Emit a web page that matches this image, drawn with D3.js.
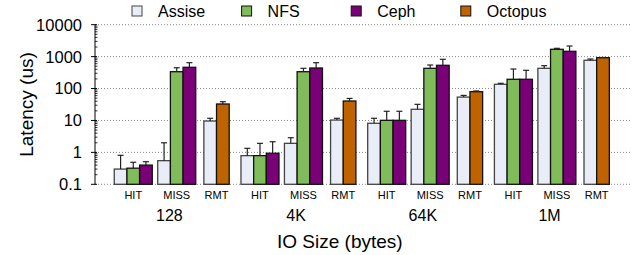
<!DOCTYPE html>
<html>
<head>
<meta charset="utf-8">
<script src="https://cdn.jsdelivr.net/npm/d3@7"></script>
<style>
  body { margin: 0; background: #fff; }
  svg { font-family: "Liberation Sans", Arial, sans-serif; }
</style>
</head>
<body>
<svg id="chart" width="634" height="255"></svg>
<script>
var sizes = ["128", "4K", "64K", "1M"];
var kinds = ["HIT", "MISS", "RMT"];
var seriesNames = ["Assise", "NFS", "Ceph", "Octopus"];
var yTicks = [0.1, 1, 10, 100, 1000, 10000];
var yTickLabels = ["0.1", "1", "10", "100", "1000", "10000"];

// values per size x kind (HIT, MISS, RMT), null = no bar
var assise     = [0.3, 0.55, 9.6,   0.79, 1.92, 10.3,   8.15, 22.4, 54,   136, 430, 767];
var assiseErr  = [0.81, 2.0, 11.7,  1.34, 2.88, 11.7,   11.7, 32, 61,     146, 520, 841];
var nfs        = [0.32, 337, null,  0.79, 337, null,    10.1, 430, null,  195, 1695, null];
var nfsErr     = [0.49, 448, null,  1.92, 430, null,    19.4, 546, null,  409, 1820, null];
var ceph       = [0.40, 463, null,  0.94, 440, null,    10.1, 535, null,  195, 1468, null];
var cephErr    = [0.51, 645, null,  2.16, 645, null,    19.4, 824, null,  373, 2150, null];
var octopus    = [null, null, 32.8, null, null, 40.7,   null, null, 79.6, null, null, 925];
var octopusErr = [null, null, 38.7, null, null, 49,     null, null, 84,   null, null, 940];

var colors = ["#e9edf7", "#80bc5a", "#7a0077", "#bf6300"];
var strokes = ["#444", "#111", "#111", "#111"];

var svg = d3.select("#chart");
var plotLeft = 95, plotRight = 630, plotTop = 24.7, plotBottom = 184.3;

// x in "bar slots": 10 slots per size group
var x = d3.scaleLinear().domain([-1.52, 40.7]).range([plotLeft, plotRight]);
var kindStart = [0, 3.43, 7.07];
var y = d3.scaleLog().domain([0.1, 10000]).range([plotBottom, plotTop]);

// gridlines
svg.append("g").selectAll("line").data(yTicks).enter().append("line")
    .attr("x1", plotLeft).attr("x2", plotRight)
    .attr("y1", d => y(d)).attr("y2", d => y(d))
    .attr("stroke", "#666").attr("stroke-width", 0.8)
    .attr("stroke-dasharray", "1,2");

// axis
var minor = [];
yTicks.slice(0, -1).forEach(function(t) {
    for (var m = 2; m <= 9; m++) minor.push(t * m);
});
var ax = svg.append("g").attr("stroke", "#000");
ax.append("line").attr("x1", plotLeft).attr("x2", plotLeft).attr("y1", y(10000)).attr("y2", y(0.1));
ax.selectAll(".maj").data(yTicks).enter().append("line")
    .attr("x1", plotLeft - 4).attr("x2", plotLeft + 2)
    .attr("y1", d => y(d)).attr("y2", d => y(d));
ax.selectAll(".min").data(minor).enter().append("line")
    .attr("x1", plotLeft).attr("x2", plotLeft + 2.5)
    .attr("y1", d => y(d)).attr("y2", d => y(d)).attr("stroke-width", 0.8);

svg.append("g").selectAll("text").data(yTicks).enter().append("text")
    .attr("x", plotLeft - 13).attr("y", d => y(d)).attr("dy", "0.36em")
    .attr("text-anchor", "end").attr("font-size", 16.5)
    .text((d, i) => yTickLabels[i]);

svg.append("text")
    .attr("transform", "translate(33," + ((plotTop + plotBottom) / 2) + ") rotate(-90)")
    .attr("text-anchor", "middle").attr("font-size", 19)
    .text("Latency (us)");

// bars
var values = [assise, nfs, ceph, octopus];
var errs = [assiseErr, nfsErr, cephErr, octopusErr];
var bars = [];
sizes.forEach(function(s, g) {
    kinds.forEach(function(k, ki) {
        var idx = g * kinds.length + ki;
        var j = 0;
        values.forEach(function(arr, si) {
            if (arr[idx] == null) return;
            bars.push({ s: si, v: arr[idx], e: errs[si][idx], slot: g * 10 + kindStart[ki] + j });
            j++;
        });
    });
});

var bw = x(1) - x(0);
svg.append("g").selectAll("rect").data(bars).enter().append("rect")
    .attr("x", d => x(d.slot))
    .attr("width", bw)
    .attr("y", d => y(d.v))
    .attr("height", d => y(0.1) - y(d.v))
    .attr("fill", d => colors[d.s])
    .attr("stroke", d => strokes[d.s])
    .attr("stroke-width", 1.3);

var eg = svg.append("g").attr("stroke", "#222").attr("stroke-width", 1.2);
bars.forEach(function(d) {
    var cx = x(d.slot + 0.5);
    eg.append("line").attr("x1", cx).attr("x2", cx).attr("y1", y(d.v)).attr("y2", y(d.e));
    eg.append("line").attr("x1", cx - 3).attr("x2", cx + 3).attr("y1", y(d.e)).attr("y2", y(d.e));
});

// category labels
var kindCount = [3, 3, 2];
sizes.forEach(function(s, g) {
    kinds.forEach(function(k, ki) {
        svg.append("text")
            .attr("x", x(g * 10 + kindStart[ki] + kindCount[ki] / 2))
            .attr("y", 198.5).attr("text-anchor", "middle").attr("font-size", 11)
            .text(k);
    });
    svg.append("text")
        .attr("x", x(g * 10 + 4.35)).attr("y", 220.5)
        .attr("text-anchor", "middle").attr("font-size", 16)
        .text(s);
});

svg.append("text").attr("x", x(17.8)).attr("y", 248)
    .attr("text-anchor", "middle").attr("font-size", 19)
    .text("IO Size (bytes)");

// legend
var lx = d3.scaleLinear().domain([0, 1]).range([132, 241.6]);
var leg = svg.append("g").selectAll("g").data(seriesNames).enter().append("g")
    .attr("transform", (d, i) => "translate(" + lx(i) + ",0)");
leg.append("rect").attr("x", 0).attr("y", 6).attr("width", 10).attr("height", 10)
    .attr("fill", (d, i) => colors[i]).attr("stroke", (d, i) => strokes[i]).attr("stroke-width", 1);
leg.append("text").attr("x", 26).attr("y", 17).attr("font-size", 16).text(d => d);
</script>
</body>
</html>
